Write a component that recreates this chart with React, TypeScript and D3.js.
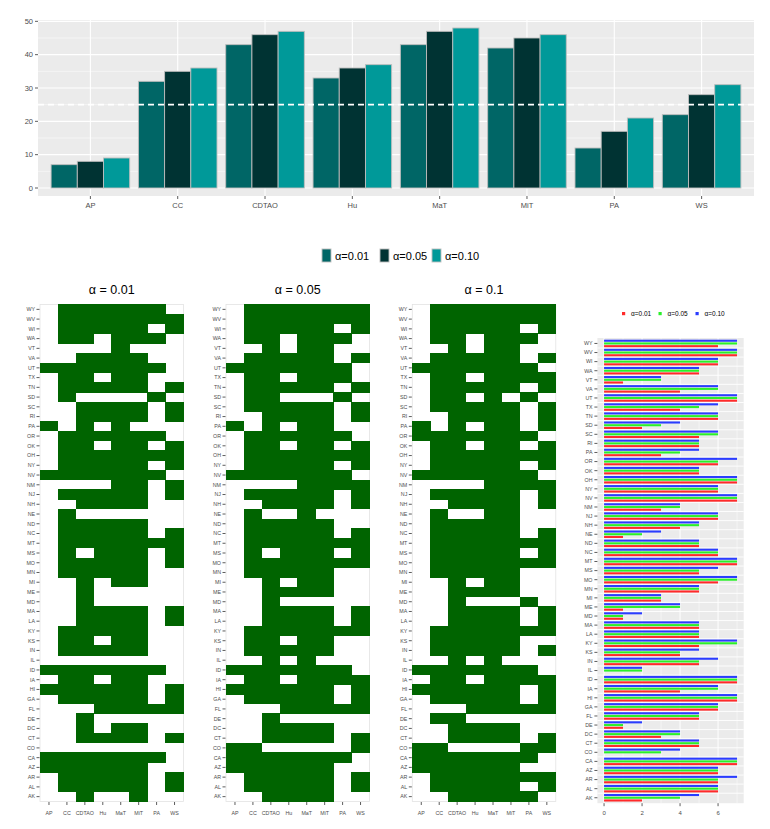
import React from "react";
import * as d3 from "d3";

// ---------- data ----------
const columns = ["AP", "CC", "CDTAO", "Hu", "MaT", "MiT", "PA", "WS"];
const alphaKeys = ["α=0.01", "α=0.05", "α=0.10"];
const count001 = [7, 32, 43, 33, 43, 42, 12, 22];
const count005 = [8, 35, 46, 36, 47, 45, 17, 28];
const count010 = [9, 36, 47, 37, 48, 46, 21, 31];
const thresholdLine = 25;
const topTicks = [0, 10, 20, 30, 40, 50];
const topMinorTicks = [5, 15, 25, 35, 45];

const states = [
  "WY", "WV", "WI", "WA", "VT", "VA", "UT", "TX", "TN", "SD", "SC", "RI", "PA",
  "OR", "OK", "OH", "NY", "NV", "NM", "NJ", "NH", "NE", "ND", "NC", "MT", "MS",
  "MO", "MN", "MI", "ME", "MD", "MA", "LA", "KY", "KS", "IN", "IL", "ID", "IA",
  "HI", "GA", "FL", "DE", "DC", "CT", "CO", "CA", "AZ", "AR", "AL", "AK",
];

// significance per state, one character per column (AP..WS), 1 = significant
const sig001 = [
  "01111110", "01111111", "01111101", "01101110", "00001000", "00111100", "11111110",
  "01101100", "01111101", "01000010", "00111101", "00111101", "10101000", "01111110",
  "01101101", "01111111", "01111101", "11111110", "00001101", "01111101", "00111100",
  "01000000", "01111100", "01111101", "01111111", "01011101", "01111101", "01111100",
  "00101100", "00100000", "00100000", "00111101", "00111101", "01111100", "01101100",
  "01111100", "00000000", "11111110", "01101100", "11111101", "01111101", "00011111",
  "00100000", "00101100", "00111101", "00000000", "11111110", "11111100", "01111101",
  "01111101", "00100100",
];
const sig005 = [
  "01111111", "01111111", "01111101", "01101110", "00101100", "01111101", "11111110",
  "01101110", "01111101", "01100010", "01111101", "00111101", "10101100", "01111110",
  "01101101", "01111111", "01111101", "11111110", "00001111", "01111101", "00111101",
  "01001000", "01111100", "01111101", "01111111", "01011101", "01111111", "01111100",
  "00101100", "00111100", "00100000", "00111101", "00111101", "01111111", "01101100",
  "01111100", "00101000", "11111110", "01101111", "11111101", "01111101", "00011111",
  "00100000", "00111100", "00111101", "11000001", "11111110", "11111100", "01111101",
  "01111101", "00111100",
];
const sig010 = [
  "01111111", "01111111", "01111101", "01101110", "00101100", "01111101", "11111110",
  "01101111", "01111101", "01101010", "01111101", "00111101", "10101101", "11111110",
  "01101101", "01111111", "01111101", "11111110", "00001111", "01111101", "00111101",
  "01001100", "01111100", "01111101", "01111111", "01111101", "01111111", "01111100",
  "00101100", "00111100", "00100010", "00111101", "00111101", "01111111", "01111100",
  "01111101", "00101000", "11111110", "01101111", "11111101", "01111101", "00011111",
  "01100000", "00111100", "00111101", "11000011", "11111110", "11111100", "01111111",
  "01111101", "00111110",
];
const panelTitles = ["α = 0.01", "α = 0.05", "α = 0.1"];
const countTicks = [0, 2, 4, 6];
const countMinor = [1, 3, 5, 7];

// ---------- styles ----------
const FONT = "'Liberation Sans', Arial, sans-serif";
const topColors = ["#006666", "#003333", "#009999"];
const rightColors = ["#FF2A2A", "#2AF02A", "#2A3CFF"];
const tileColor = "#006400";
const axisText = "#4D4D4D";
const panelBg = "#EBEBEB";

export default function App() {
  // ---- top grouped bar chart ----
  const topSeries = [count001, count005, count010];
  const xTop = d3.scalePoint<string>().domain(columns).range([38, 754]).padding(0.6);
  const stepTop = xTop.step();
  const inner = d3
    .scaleBand<string>()
    .domain(alphaKeys)
    .range([-0.45 * stepTop, 0.45 * stepTop]);
  const yTop = d3.scaleLinear().domain([-2.4, 50.4]).range([196, 20]);

  // ---- heatmaps ----
  const sigSets = [sig001, sig005, sig010];
  const heatX0 = [40, 226, 412.3];
  const heatW = 143.5;
  const yHeat = d3.scaleBand<string>().domain(states).range([304.5, 801.5]);

  // ---- right bar chart ----
  const rowSums = sigSets.map((s) => s.map((r) => d3.sum(r.split(""), (c) => +c)));
  const xR = d3.scaleLinear().domain([-0.35, 7.35]).range([597.4, 743.7]);
  const yR = d3.scalePoint<string>().domain(states).range([338, 803.2]).padding(0.6);
  const stepR = yR.step();
  const innerR = d3
    .scaleBand<string>()
    .domain(["α=0.10", "α=0.05", "α=0.01"])
    .range([-0.45 * stepR, 0.45 * stepR]);

  return (
    <svg
      width={770}
      height={829}
      style={{ position: "absolute", left: 0, top: 0, background: "#fff" }}
      fontFamily={FONT}
    >
      {/* ================= TOP CHART ================= */}
      <rect x={38} y={20} width={716} height={176} fill={panelBg} />
      {topMinorTicks.map((t) => (
        <line key={"mn" + t} x1={38} x2={754} y1={yTop(t)} y2={yTop(t)} stroke="#fff" strokeWidth={0.5} />
      ))}
      {topTicks.map((t) => (
        <line key={"mj" + t} x1={38} x2={754} y1={yTop(t)} y2={yTop(t)} stroke="#fff" strokeWidth={1.1} />
      ))}
      {columns.map((c) => (
        <line key={"vg" + c} x1={xTop(c)} x2={xTop(c)} y1={20} y2={196} stroke="#fff" strokeWidth={1.1} />
      ))}
      {columns.map((c, ci) =>
        alphaKeys.map((a, ai) => {
          const v = topSeries[ai][ci];
          return (
            <rect
              key={c + a}
              x={(xTop(c) as number) + (inner(a) as number)}
              y={yTop(v)}
              width={inner.bandwidth()}
              height={yTop(0) - yTop(v)}
              fill={topColors[ai]}
              stroke="#BEBEBE"
              strokeWidth={0.9}
            />
          );
        })
      )}
      <line
        x1={38}
        x2={754}
        y1={yTop(thresholdLine)}
        y2={yTop(thresholdLine)}
        stroke="#fff"
        strokeWidth={1.6}
        strokeDasharray="6 4"
      />
      {topTicks.map((t) => (
        <g key={"yt" + t}>
          <line x1={35} x2={38} y1={yTop(t)} y2={yTop(t)} stroke="#333" strokeWidth={0.8} />
          <text x={33} y={yTop(t)} dy="0.35em" textAnchor="end" fontSize={7.5} fill={axisText}>
            {t}
          </text>
        </g>
      ))}
      {columns.map((c) => (
        <g key={"xt" + c}>
          <line x1={xTop(c)} x2={xTop(c)} y1={196} y2={199} stroke="#333" strokeWidth={0.8} />
          <text x={xTop(c)} y={208} textAnchor="middle" fontSize={7.5} fill={axisText}>
            {c}
          </text>
        </g>
      ))}
      {/* top legend */}
      {alphaKeys.map((a, i) => {
        const kx = [322, 380, 432][i];
        return (
          <g key={"lg" + a}>
            <rect x={kx} y={249} width={9} height={13} fill={topColors[i]} stroke="#BEBEBE" strokeWidth={0.9} />
            <text x={kx + 13} y={259.5} fontSize={11} fill="#000">
              {a}
            </text>
          </g>
        );
      })}

      {/* ================= HEATMAPS ================= */}
      {sigSets.map((sig, p) => {
        const x0 = heatX0[p];
        const xH = d3.scaleBand<string>().domain(columns).range([x0, x0 + heatW]);
        return (
          <g key={"hm" + p}>
            <text
              x={x0 + heatW / 2}
              y={294}
              textAnchor="middle"
              fontSize={12.5}
              fill="#000"
            >
              {panelTitles[p]}
            </text>
            <rect
              x={x0}
              y={304.5}
              width={heatW}
              height={497}
              fill="#fff"
              stroke="#E3E3E3"
              strokeWidth={0.8}
            />
            <g shapeRendering="crispEdges">
              {states.map((s, si) =>
                columns.map((c, ci) =>
                  sig[si][ci] === "1" ? (
                    <rect
                      key={s + c}
                      x={(xH(c) as number) - 0.3}
                      y={(yHeat(s) as number) - 0.3}
                      width={xH.bandwidth() + 0.6}
                      height={yHeat.bandwidth() + 0.6}
                      fill={tileColor}
                    />
                  ) : null
                )
              )}
            </g>
            {states.map((s) => {
              const cy = (yHeat(s) as number) + yHeat.bandwidth() / 2;
              return (
                <g key={"hy" + s}>
                  <line x1={x0 - 3.5} x2={x0 - 0.5} y1={cy} y2={cy} stroke="#333" strokeWidth={0.8} />
                  <text x={x0 - 5} y={cy} dy="0.35em" textAnchor="end" fontSize={5.3} fill={axisText}>
                    {s}
                  </text>
                </g>
              );
            })}
            {columns.map((c) => {
              const cx = (xH(c) as number) + xH.bandwidth() / 2;
              return (
                <g key={"hx" + c}>
                  <line x1={cx} x2={cx} y1={802} y2={805} stroke="#333" strokeWidth={0.8} />
                  <text x={cx} y={815} textAnchor="middle" fontSize={5.3} fill={axisText}>
                    {c}
                  </text>
                </g>
              );
            })}
          </g>
        );
      })}

      {/* ================= RIGHT BAR CHART ================= */}
      {/* legend */}
      {alphaKeys.map((a, i) => {
        const kx = [622, 658.5, 695.5][i];
        return (
          <g key={"rl" + a}>
            <rect x={kx} y={312} width={3.2} height={3.2} fill={rightColors[i]} />
            <text x={kx + 9} y={316} fontSize={6.5} fill="#000">
              {a}
            </text>
          </g>
        );
      })}
      <rect x={597.4} y={338} width={146.3} height={465.2} fill={panelBg} />
      {countMinor.map((t) => (
        <line key={"rm" + t} x1={xR(t)} x2={xR(t)} y1={338} y2={803.2} stroke="#fff" strokeWidth={0.5} />
      ))}
      {countTicks.map((t) => (
        <line key={"rj" + t} x1={xR(t)} x2={xR(t)} y1={338} y2={803.2} stroke="#fff" strokeWidth={1} />
      ))}
      {states.slice(1).map((s) => {
        const yy = (yR(s) as number) - stepR / 2;
        return <line key={"rs" + s} x1={597.4} x2={743.7} y1={yy} y2={yy} stroke="#fff" strokeWidth={0.9} />;
      })}
      {states.map((s, si) =>
        alphaKeys.map((a, ai) => {
          const v = rowSums[ai][si];
          if (v === 0) return null;
          const bw = innerR.bandwidth();
          return (
            <rect
              key={"rb" + s + a}
              x={xR(0)}
              y={(yR(s) as number) + (innerR(a) as number) + bw * 0.12}
              width={xR(v) - xR(0)}
              height={bw * 0.76}
              fill={rightColors[ai]}
            />
          );
        })
      )}
      {states.map((s) => {
        const cy = yR(s) as number;
        return (
          <g key={"ry" + s}>
            <line x1={594.4} x2={597.4} y1={cy} y2={cy} stroke="#333" strokeWidth={0.8} />
            <text x={592.5} y={cy} dy="0.35em" textAnchor="end" fontSize={5.3} fill={axisText}>
              {s}
            </text>
          </g>
        );
      })}
      {countTicks.map((t) => (
        <g key={"rx" + t}>
          <line x1={xR(t)} x2={xR(t)} y1={803.2} y2={806.2} stroke="#333" strokeWidth={0.8} />
          <text x={xR(t)} y={815} textAnchor="middle" fontSize={6} fill={axisText}>
            {t}
          </text>
        </g>
      ))}
    </svg>
  );
}
